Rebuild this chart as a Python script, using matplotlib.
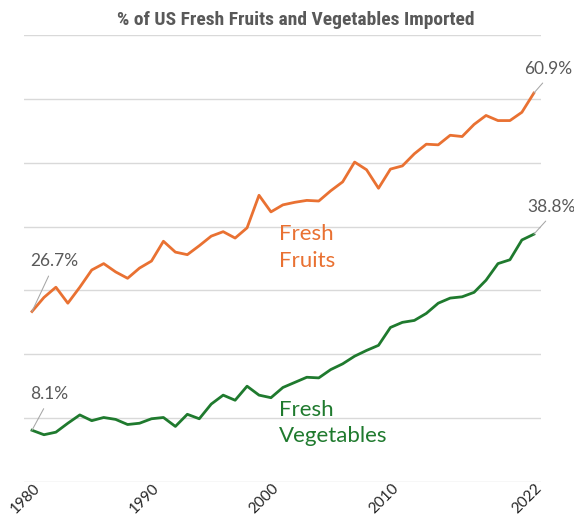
import matplotlib.pyplot as plt
from matplotlib.transforms import ScaledTranslation

# Годы и доли импорта (%)
years = list(range(1980, 2023))
fruits = [26.7, 28.9, 30.5, 28.0, 30.5, 33.2, 34.2, 32.9, 31.9, 33.5,
          34.6, 37.7, 36.0, 35.6, 37.0, 38.5, 39.2, 38.2, 39.8, 44.9,
          42.3, 43.4, 43.8, 44.1, 44.0, 45.6, 47.0, 50.1, 48.9, 46.0,
          49.0, 49.5, 51.4, 52.9, 52.8, 54.3, 54.1, 56.0, 57.4, 56.6,
          56.6, 57.9, 60.9]
vegetables = [8.1, 7.4, 7.8, 9.2, 10.5, 9.6, 10.1, 9.8, 9.0, 9.2,
              9.9, 10.1, 8.7, 10.6, 9.9, 12.2, 13.6, 12.8, 15.0, 13.6,
              13.2, 14.8, 15.6, 16.4, 16.3, 17.6, 18.5, 19.7, 20.6, 21.4,
              24.2, 25.0, 25.3, 26.4, 28.0, 28.8, 29.0, 29.7, 31.6, 34.2,
              34.8, 37.9, 38.8]
tick_years = [1980, 1990, 2000, 2010, 2022]

ORANGE = '#E97132'
GREEN = '#1F7A2E'
GRAY = '#595959'

plt.rcParams['font.family'] = ['Lato', 'DejaVu Sans']

fig = plt.figure(figsize=(5.74, 5.21), dpi=100)
ax = fig.add_axes([0.0418, 0.0749, 0.9007, 0.8579])

ax.plot(years, fruits, color=ORANGE, lw=2.0, solid_joinstyle='round')
ax.plot(years, vegetables, color=GREEN, lw=2.0, solid_joinstyle='round')

ax.set_xlim(1979.33, 2022.6)
ax.set_ylim(0, 70)
ax.set_yticks(range(0, 71, 10))
ax.yaxis.grid(True, color='#d9d9d9', lw=1.0)
ax.set_axisbelow(True)
ax.tick_params(axis='y', left=False, labelleft=False)
ax.set_xticks(tick_years)
ax.set_xticklabels([str(y) for y in tick_years], rotation=45, ha='right',
                   va='center', rotation_mode='anchor', fontsize=11,
                   color='#262626')
ax.tick_params(axis='x', length=0, pad=3)
# сдвинем подписи чуть вправо, как в оригинале
shift = ScaledTranslation(6 / 100, 0, fig.dpi_scale_trans)
for lbl in ax.get_xticklabels():
    lbl.set_transform(lbl.get_transform() + shift)
for s in ax.spines.values():
    s.set_visible(False)

# Подписи начальных и конечных значений
def label_point(x, y, dx, dy, rx):
    ax.annotate(f'{y:.1f}%', xy=(x, y), xytext=(dx, dy), textcoords='offset pixels',
                ha='left', va='center', fontsize=12.5, color=GRAY,
                arrowprops=dict(arrowstyle='-', color='#a6a6a6', lw=0.75,
                                relpos=(rx, 0), shrinkA=3, shrinkB=0))

label_point(years[0], fruits[0], -2, 50, 0.45)
label_point(years[0], vegetables[0], -2, 36, 0.45)
label_point(years[-1], fruits[-1], -10, 24, 0.5)
label_point(years[-1], vegetables[-1], -7, 27, 0.5)

ax.text(2000.7, 36.7, 'Fresh\nFruits', color=ORANGE, fontsize=16,
        ha='left', va='center', linespacing=1.4)
ax.text(2000.7, 9.2, 'Fresh\nVegetables', color=GREEN, fontsize=16,
        ha='left', va='center', linespacing=1.4)

fig.text(0.515, 0.962, '% of US Fresh Fruits and Vegetables Imported',
         ha='center', va='center', fontsize=14, fontweight='bold', color=GRAY,
         family=['Roboto Condensed', 'Roboto', 'DejaVu Sans'])

fig.savefig('out.png', dpi=100)
